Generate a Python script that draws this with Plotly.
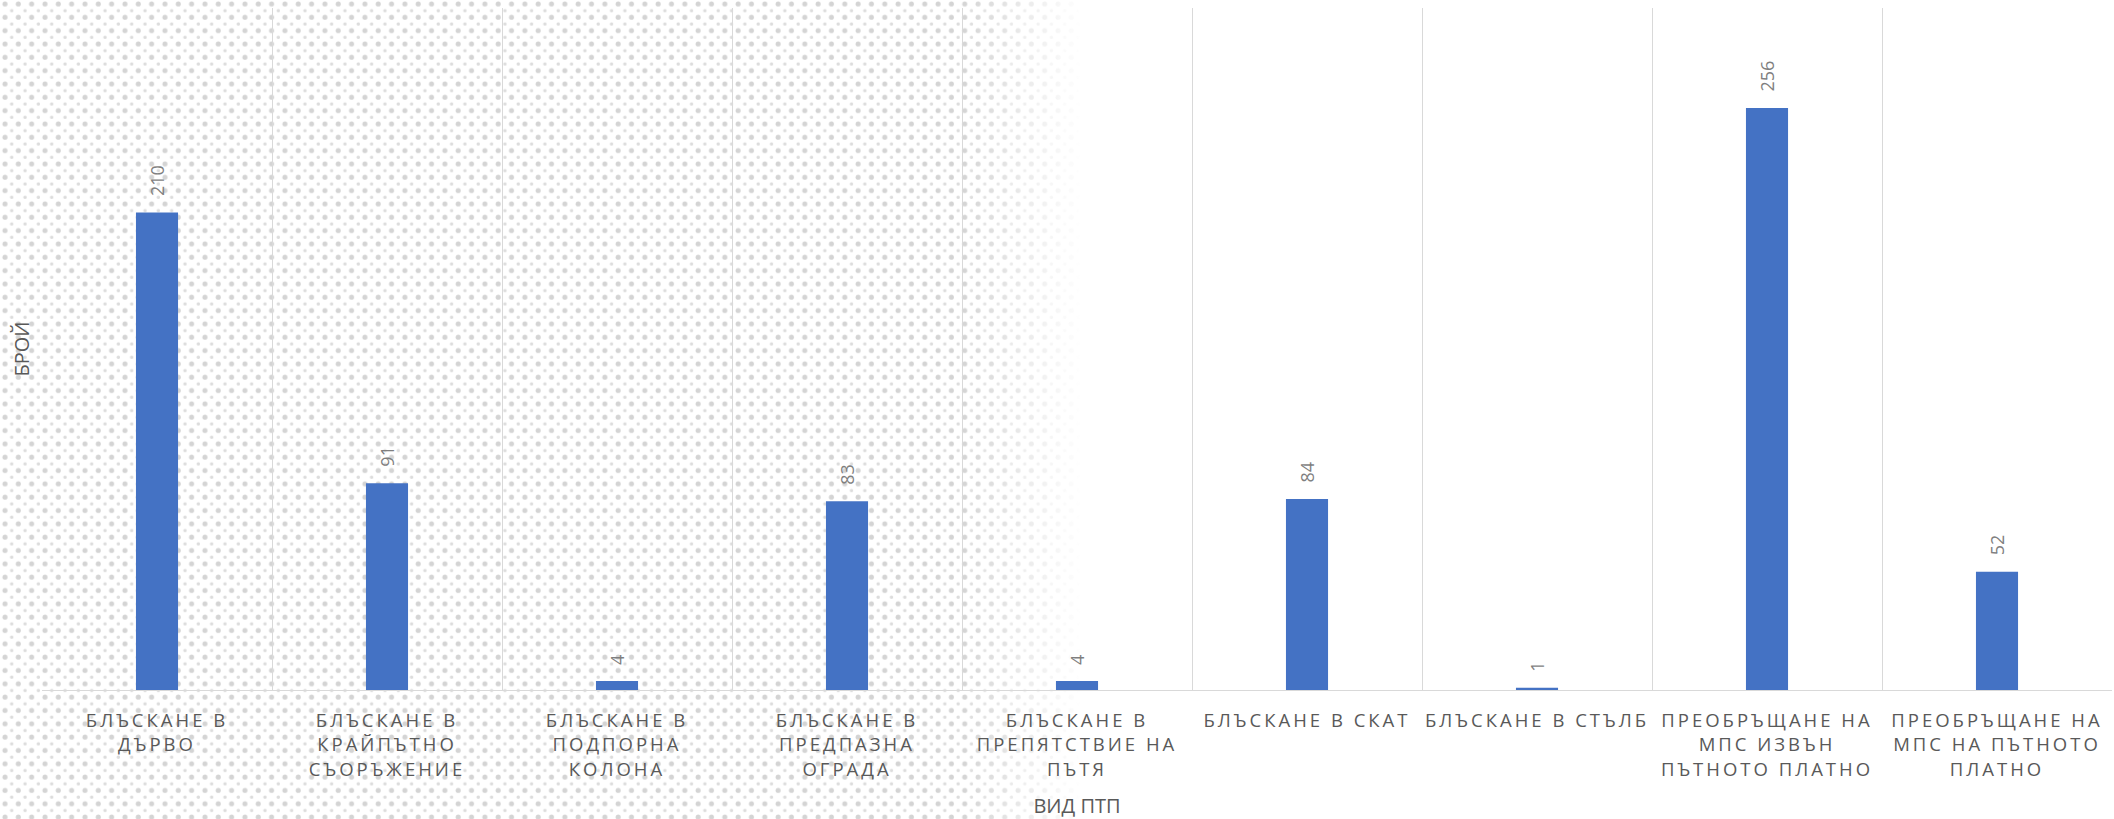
import base64
import plotly.graph_objects as go

categories = [
    "БЛЪСКАНЕ В<br>ДЪРВО",
    "БЛЪСКАНЕ В<br>КРАЙПЪТНО<br>СЪОРЪЖЕНИЕ",
    "БЛЪСКАНЕ В<br>ПОДПОРНА<br>КОЛОНА",
    "БЛЪСКАНЕ В<br>ПРЕДПАЗНА<br>ОГРАДА",
    "БЛЪСКАНЕ В<br>ПРЕПЯТСТВИЕ НА<br>ПЪТЯ",
    "БЛЪСКАНЕ В СКАТ",
    "БЛЪСКАНЕ В СТЪЛБ",
    "ПРЕОБРЪЩАНЕ НА<br>МПС ИЗВЪН<br>ПЪТНОТО ПЛАТНО",
    "ПРЕОБРЪЩАНЕ НА<br>МПС НА ПЪТНОТО<br>ПЛАТНО",
]
values = [210, 91, 4, 83, 4, 84, 1, 256, 52]
x_title = "ВИД ПТП"
y_title = "БРОЙ"

W, H = 2114, 819
ML, MR, MT, MB = 42, 2, 8, 129
PW, PH = W - ML - MR, H - MT - MB

svg = f'''<svg xmlns="http://www.w3.org/2000/svg" width="{W}" height="{H}" viewBox="0 0 {W} {H}">
<defs>
<pattern id="p" x="0" y="0" width="13.33" height="13.33" patternUnits="userSpaceOnUse">
<circle cx="5" cy="4" r="2.5" fill="#d4d4d4"/>
<circle cx="11.66" cy="10.66" r="1.7" fill="#dcdcdc"/>
</pattern>
<linearGradient id="g" x1="0" y1="0" x2="{W}" y2="0" gradientUnits="userSpaceOnUse">
<stop offset="0.455" stop-color="#fff"/>
<stop offset="0.512" stop-color="#000"/>
</linearGradient>
<mask id="m"><rect width="{W}" height="{H}" fill="url(#g)"/></mask>
</defs>
<rect width="{W}" height="{H}" fill="url(#p)" mask="url(#m)"/>
</svg>'''
svg_uri = "data:image/svg+xml;base64," + base64.b64encode(svg.encode()).decode()

fig = go.Figure()
fig.add_trace(go.Bar(
    x=categories, y=values,
    marker=dict(color="#4472C4", line=dict(width=0)),
    width=0.183,
    hoverinfo="x+y",
))

for c, v in zip(categories, values):
    fig.add_annotation(
        x=c, y=v, text=str(v), textangle=-90, showarrow=False,
        xanchor="center", yanchor="bottom", yshift=14,
        font=dict(family="Open Sans", size=18, color="#7f7f7f"),
    )

fig.add_layout_image(dict(
    source=svg_uri, xref="paper", yref="paper",
    x=-ML / PW, y=1 + MT / PH, sizex=W / PW, sizey=H / PH,
    xanchor="left", yanchor="top", sizing="stretch", layer="below",
))

fig.update_layout(
    width=W, height=H, autosize=False,
    margin=dict(l=ML, r=MR, t=MT, b=MB, pad=0),
    paper_bgcolor="white", plot_bgcolor="rgba(0,0,0,0)",
    showlegend=False,
    font=dict(family="Open Sans", color="#595959"),
    bargap=0.817,
)
fig.update_xaxes(
    type="category", tickson="boundaries", showgrid=True,
    gridcolor="#d9d9d9", gridwidth=1.4,
    showline=True, linecolor="#d9d9d9", linewidth=1.4,
    ticks="", ticklabelstandoff=14,
    tickangle=0, tickfont=dict(family="Open Sans", size=18.5, color="#595959"),
    title=dict(text=x_title, font=dict(family="Open Sans", size=20, color="#595959"), standoff=22),
    automargin=False, zeroline=False,
)
fig.update_yaxes(
    range=[0, 300], showgrid=False, zeroline=False, showticklabels=False,
    ticks="", showline=False,
    title=dict(text=y_title, font=dict(family="Open Sans", size=20, color="#595959"), standoff=6),
    automargin=False,
)

post = """
document.body.style.margin='0';
document.body.style.overflow='hidden';
var gd = document.getElementById('{plot_id}');
function ls(){ document.querySelectorAll('.xtick text').forEach(function(t){ t.style.letterSpacing='3px'; }); }
ls();
if (gd && gd.on) { gd.on('plotly_afterplot', ls); }
"""
fig.write_html("out.html", post_script=post, config={"displayModeBar": False})
